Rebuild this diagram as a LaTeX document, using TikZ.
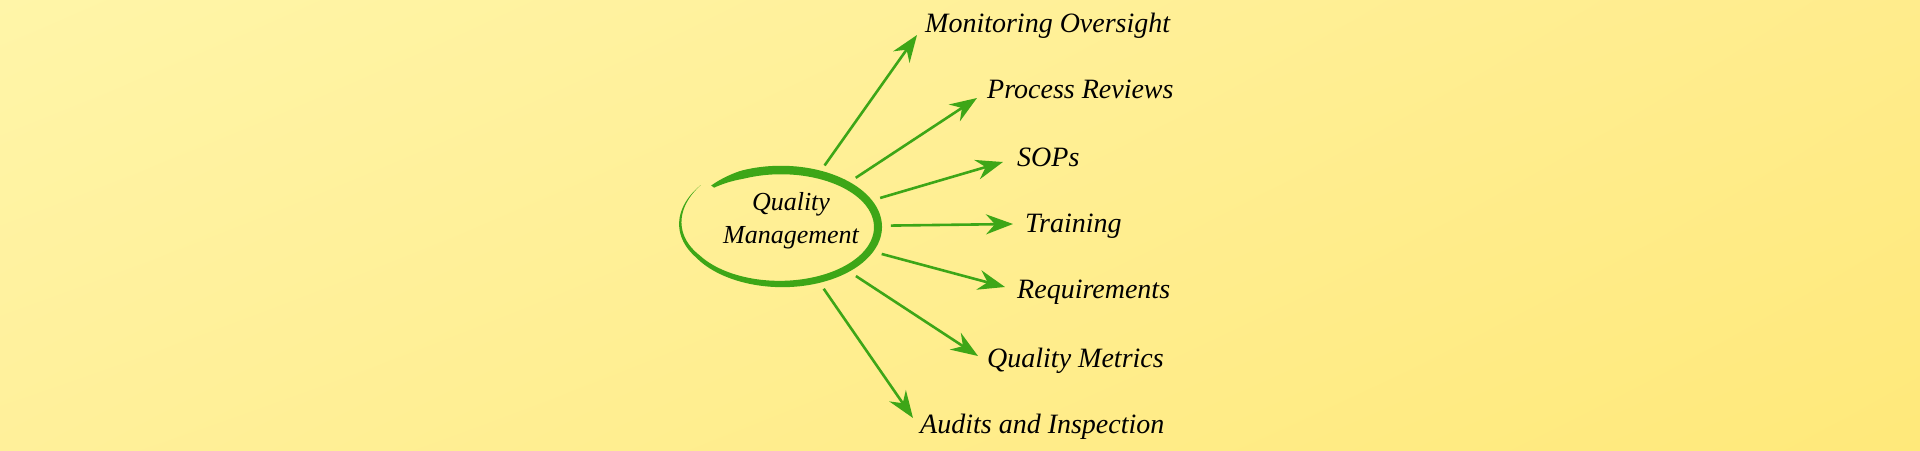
\documentclass[tikz,border=0pt]{standalone}
\usepackage{fontspec}
\setmainfont{Liberation Serif}
\usetikzlibrary{arrows.meta,shapes.geometric,shadings}
\definecolor{bgA}{HTML}{FFF5A8}
\definecolor{bgB}{HTML}{FFEC8C}
\definecolor{bgC}{HTML}{FFF09A}
\definecolor{bgD}{HTML}{FFE97A}
\definecolor{grn}{HTML}{3DA617}
\begin{document}
\begin{tikzpicture}[x=1pt,y=-1pt,
  declare function={
    ecx=781; ecy=227; erx=97; ery=57;
    ang(\s)=-135+355*\s;
    wd(\s)=8.5*(1-\s^3)*min(1,0.4+\s*10);
    off(\s)=8*max(0,\s-0.8)/0.2;
  },
  arr/.style={draw=grn, line width=2.6pt, -{Stealth[length=27pt,width=20pt,inset=9pt]}},
  lbl/.style={anchor=base west, inner sep=0pt, font=\fontsize{28}{32}\selectfont\itshape},
  ctext/.style={align=center, inner sep=0pt, font=\fontsize{26}{33}\selectfont\itshape},
  hub/.style={shape=ellipse, minimum width=220pt, minimum height=134pt, inner sep=0pt, outer sep=0pt}
]
\shade[upper left=bgA, upper right=bgB, lower left=bgC, lower right=bgD] (0,0) rectangle (1920,450);
\useasboundingbox (0,0) rectangle (1920,450);

% brush-stroke ellipse
\fill[grn] plot[domain=0:1, samples=140, variable=\s]
  ({ecx+(erx+off(\s)+wd(\s)/2)*cos(ang(\s))}, {ecy+(ery+off(\s)+wd(\s)/2)*sin(ang(\s))})
  -- plot[domain=1:0, samples=140, variable=\s]
  ({ecx+(erx+off(\s)-wd(\s)/2)*cos(ang(\s))}, {ecy+(ery+off(\s)-wd(\s)/2)*sin(ang(\s))})
  -- cycle;

\node[hub] (qm) at (781,227) {};
\node[ctext] (qmtext) at (791,221) {Quality\\Management};

\node[lbl] (l1) at (925,32) {Monitoring Oversight};
\node[lbl] (l2) at (987,98) {Process Reviews};
\node[lbl] (l3) at (1017,166) {SOPs};
\node[lbl] (l4) at (1025,232) {Training};
\node[lbl] (l5) at (1017,298) {Requirements};
\node[lbl] (l6) at (987,367) {Quality Metrics};
\node[lbl] (l7) at (920,433) {Audits and Inspection};

\coordinate (t1) at (917,35);
\coordinate (t2) at (977,98);
\coordinate (t3) at (1003,162);
\coordinate (t4) at (1013,224);
\coordinate (t5) at (1005,287);
\coordinate (t6) at (978,356);
\coordinate (t7) at (913,418);

\foreach \i in {1,...,7} {\draw[arr] (qm) -- (t\i);}
\end{tikzpicture}
\end{document}
